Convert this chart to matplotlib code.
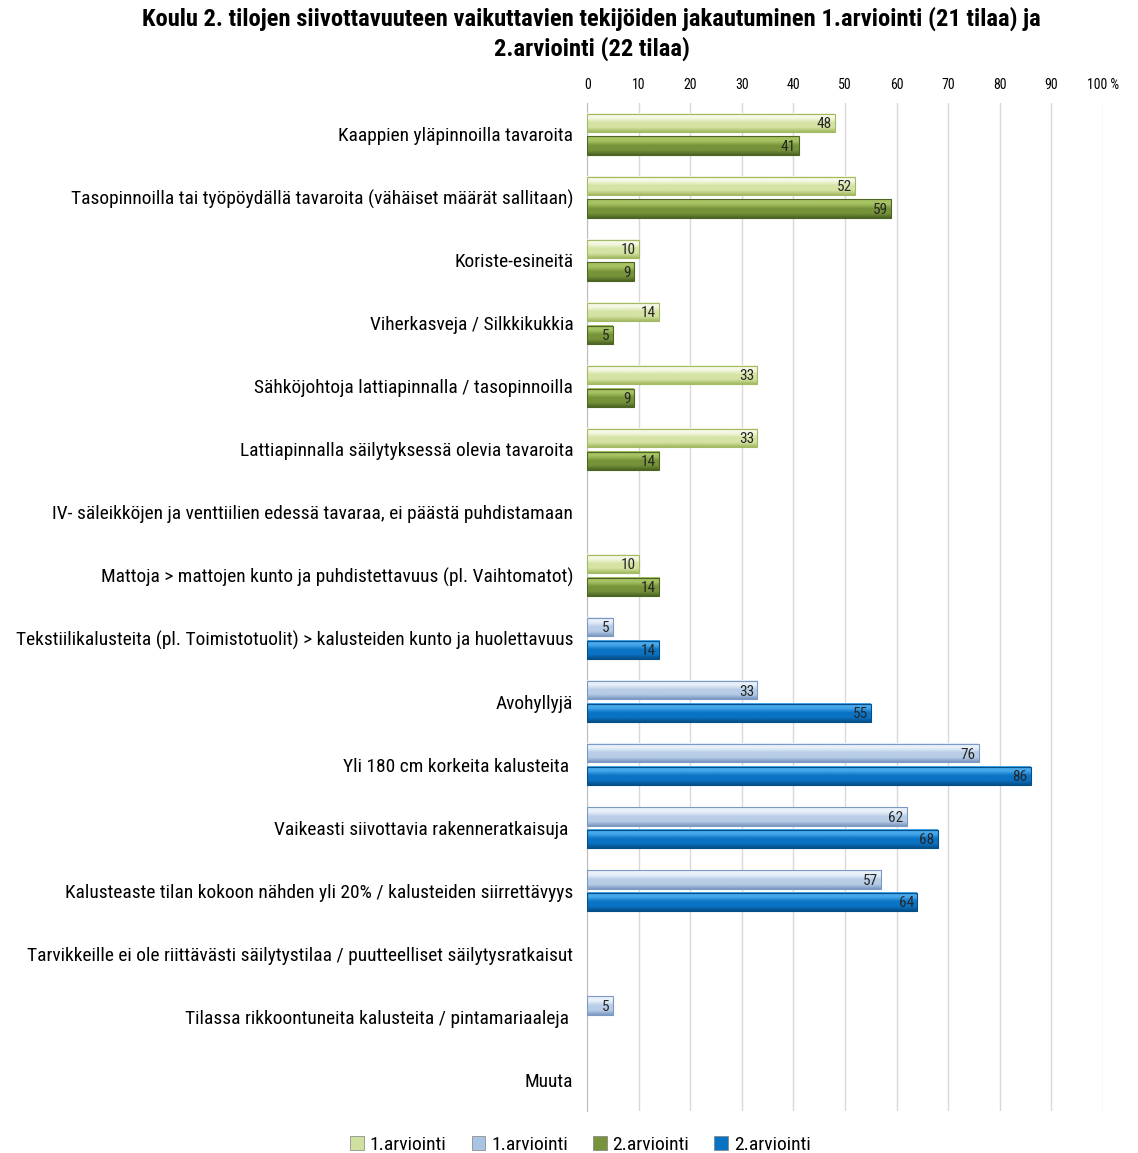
import numpy as np
import matplotlib
matplotlib.use("Agg")
import matplotlib.pyplot as plt
from matplotlib import font_manager
from matplotlib.patches import Patch
from matplotlib.colors import LinearSegmentedColormap

# prefer a narrow face if one is around
installed = {f.name for f in font_manager.fontManager.ttflist}
narrow = [n for n in ["DejaVu Sans Condensed", "Liberation Sans Narrow", "Roboto Condensed",
                      "Open Sans Condensed", "Lato", "Roboto"] if n in installed]
plt.rcParams['font.family'] = narrow[:1] + ['DejaVu Sans']

categories = [
    "Kaappien yläpinnoilla tavaroita",
    "Tasopinnoilla tai työpöydällä tavaroita (vähäiset määrät sallitaan)",
    "Koriste-esineitä",
    "Viherkasveja / Silkkikukkia",
    "Sähköjohtoja lattiapinnalla / tasopinnoilla",
    "Lattiapinnalla säilytyksessä olevia tavaroita",
    "IV- säleikköjen ja venttiilien edessä tavaraa, ei päästä puhdistamaan",
    "Mattoja > mattojen kunto ja puhdistettavuus (pl. Vaihtomatot)",
    "Tekstiilikalusteita (pl. Toimistotuolit) > kalusteiden kunto ja huolettavuus",
    "Avohyllyjä",
    "Yli 180 cm korkeita kalusteita ",
    "Vaikeasti siivottavia rakenneratkaisuja ",
    "Kalusteaste tilan kokoon nähden yli 20% / kalusteiden siirrettävyys",
    "Tarvikkeille ei ole riittävästi säilytystilaa / puutteelliset säilytysratkaisut",
    "Tilassa rikkoontuneita kalusteita / pintamariaaleja ",
    "Muuta",
]

# first eight categories (green), last eight (blue); None = no bar
green_1 = [48, 52, 10, 14, 33, 33, None, 10]
green_2 = [41, 59, 9, 5, 9, 14, None, 14]
blue_1 = [5, 33, 76, 62, 57, None, 5, None]
blue_2 = [14, 55, 86, 68, 64, None, None, None]

ticks = list(range(0, 101, 10))
tick_labels = [str(t) for t in ticks[:-1]] + ["100 %"]

styles = {
    "g1": ("#f4f8e4", "#d5e3a4", "#a3ba62"),
    "g2": ("#a6c262", "#76933a", "#4c6424"),
    "b1": ("#e8f0f9", "#b8cde6", "#7b99c2"),
    "b2": ("#46a7ea", "#0b73c4", "#044f88"),
}
legend_colors = {"g1": "#cfe0a0", "b1": "#a9c3e3", "g2": "#77933c", "b2": "#0a72c2"}

fig = plt.figure(figsize=(11.38, 11.53), dpi=100)
ax = fig.add_axes([0.516, 0.036, 0.453, 0.875])

bar_h = 0.29
off = 0.18


def draw_bar(y, v, key):
    top, mid, bot = styles[key]
    cmap = LinearSegmentedColormap.from_list(key, [top, top, mid, mid, bot])
    grad = np.linspace(0, 1, 64).reshape(-1, 1)
    ax.imshow(grad, cmap=cmap, aspect="auto", interpolation="bilinear",
              extent=(0, v, y + bar_h / 2, y - bar_h / 2), zorder=3)
    ax.barh(y, v, height=bar_h, left=0, color="none",
            edgecolor=bot, linewidth=0.8, zorder=4)
    ax.text(v - 0.6, y + 0.02, str(v), ha="right", va="center",
            fontsize=11, color="#262626", zorder=5)


series = [(green_1, green_2, 0, "g1", "g2"), (blue_1, blue_2, 8, "b1", "b2")]
for first, second, start, k1, k2 in series:
    for i, (a, b) in enumerate(zip(first, second)):
        row = start + i
        if a is not None:
            draw_bar(row - off, a, k1)
        if b is not None:
            draw_bar(row + off, b, k2)

ax.set_xlim(0, 100)
ax.set_ylim(15.5, -0.5)
ax.set_yticks(range(len(categories)))
ax.set_yticklabels(categories, fontsize=14)
ax.set_xticks(ticks)
ax.set_xticklabels(tick_labels, fontsize=10)
ax.xaxis.tick_top()
ax.tick_params(axis="x", length=0, pad=8)
ax.tick_params(axis="y", length=0, pad=10)
ax.grid(axis="x", color="#d9d9d9", linewidth=1, zorder=0)
ax.set_axisbelow(True)
for s in ["top", "right", "bottom"]:
    ax.spines[s].set_visible(False)
ax.spines["left"].set_color("#bfbfbf")

title = fig.text(0.52, 0.994,
                 "Koulu 2. tilojen siivottavuuteen vaikuttavien tekijöiden jakautuminen 1.arviointi (21 tilaa) ja\n2.arviointi (22 tilaa)",
                 ha="center", va="top", fontsize=18, fontweight="bold", linespacing=1.3)

# shrink the category labels and title so they fit the space left of the axes
renderer = fig.canvas.get_renderer()
labels = ax.get_yticklabels()
widest = max(t.get_window_extent(renderer).width for t in labels)
label_fs = min(14, 14 * 558 / widest)
for t in labels:
    t.set_fontsize(label_fs)
tw = title.get_window_extent(renderer).width
title.set_fontsize(min(18, 18 * 895 / tw))

handles = [Patch(facecolor=legend_colors[k], edgecolor="#7f7f7f", linewidth=0.5)
           for k in ["g1", "b1", "g2", "b2"]]
fig.legend(handles, ["1.arviointi", "1.arviointi", "2.arviointi", "2.arviointi"],
           loc="lower center", bbox_to_anchor=(0.51, -0.016), ncol=4,
           frameon=False, fontsize=14, handlelength=0.7, handleheight=0.7,
           handletextpad=0.3, columnspacing=1.3)

fig.savefig("out.png", dpi=100)
